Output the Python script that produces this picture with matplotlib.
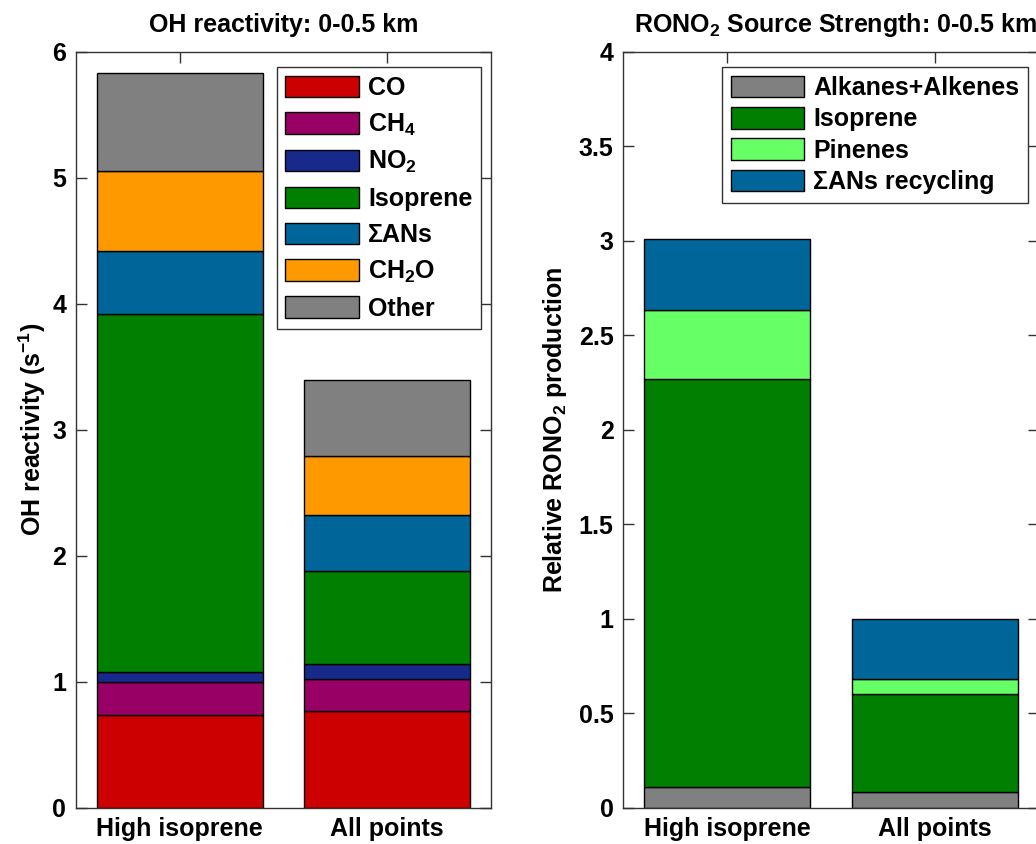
import matplotlib
matplotlib.use("Agg")
import matplotlib.pyplot as plt
import numpy as np

plt.rcParams['font.family'] = ['Liberation Sans', 'DejaVu Sans']
plt.rcParams['font.weight'] = 'bold'
plt.rcParams['mathtext.fontset'] = 'custom'
plt.rcParams['mathtext.rm'] = 'Liberation Sans:bold'
plt.rcParams['mathtext.bf'] = 'Liberation Sans:bold'
plt.rcParams['mathtext.it'] = 'Liberation Sans:bold'
plt.rcParams['mathtext.default'] = 'bf'

# ---- data ----
categories = ["High isoprene", "All points"]

oh_labels = ["CO", "CH$_4$", "NO$_2$", "Isoprene", "ΣANs", "CH$_2$O", "Other"]
oh_colors = ["#CC0000", "#990066", "#172A8C", "#007F00", "#00669A", "#FF9900", "#808080"]
oh_co = [0.736, 0.766]
oh_ch4 = [0.262, 0.257]
oh_no2 = [0.079, 0.114]
oh_isoprene = [2.843, 0.739]
oh_ans = [0.498, 0.448]
oh_ch2o = [0.638, 0.464]
oh_other = [0.772, 0.606]
oh_values = [oh_co, oh_ch4, oh_no2, oh_isoprene, oh_ans, oh_ch2o, oh_other]

rono2_labels = ["Alkanes+Alkenes", "Isoprene", "Pinenes", "ΣANs recycling"]
rono2_colors = ["#808080", "#007F00", "#66FF66", "#00669A"]
rono2_alk = [0.108, 0.083]
rono2_isoprene = [2.162, 0.517]
rono2_pinenes = [0.363, 0.083]
rono2_ans = [0.378, 0.314]
rono2_values = [rono2_alk, rono2_isoprene, rono2_pinenes, rono2_ans]

FS = 18
fig = plt.figure(figsize=(10.36, 8.44), dpi=100)
ax1 = fig.add_axes([76/1036, (844-807.7)/844, 415/1036, 756/844])
ax2 = fig.add_axes([623.3/1036, (844-807.7)/844, 416/1036, 756/844])

x = np.arange(1, len(categories) + 1)

def stacked(ax, values, labels, colors):
    bottom = np.zeros(len(categories))
    for v, lab, c in zip(values, labels, colors):
        ax.bar(x, v, width=0.8, bottom=bottom, color=c, edgecolor='black',
               linewidth=1.0, label=lab, zorder=2)
        bottom += np.array(v)

stacked(ax1, oh_values, oh_labels, oh_colors)
stacked(ax2, rono2_values, rono2_labels, rono2_colors)

for ax in (ax1, ax2):
    ax.set_xlim(0.5, 2.5)
    ax.set_xticks(x)
    ax.set_xticklabels(categories, fontsize=FS, fontweight='bold')
    ax.tick_params(direction='in', top=True, right=True, length=8, width=1,
                   color='#333333', labelsize=FS, pad=7)
    for s in ax.spines.values():
        s.set_color('#333333')
        s.set_linewidth(1.0)

ax1.set_ylim(0, 6)
ax1.set_yticks([0, 1, 2, 3, 4, 5, 6])
ax1.set_yticklabels(["0", "1", "2", "3", "4", "5", "6"], fontsize=FS, fontweight='bold')
ax1.set_ylabel("OH reactivity (s$^{-1}$)", fontsize=FS, fontweight='bold', labelpad=3)
ax1.set_title("OH reactivity: 0-0.5 km", fontsize=FS, fontweight='bold', pad=14)

ax2.set_ylim(0, 4)
yt = [0, 0.5, 1, 1.5, 2, 2.5, 3, 3.5, 4]
ax2.set_yticks(yt)
ax2.set_yticklabels(["0", "0.5", "1", "1.5", "2", "2.5", "3", "3.5", "4"], fontsize=FS, fontweight='bold')
ax2.set_ylabel("Relative RONO$_2$ production", fontsize=FS, fontweight='bold', labelpad=7)
ax2.set_title("RONO$_2$ Source Strength: 0-0.5 km", fontsize=FS, fontweight='bold', pad=14, x=0.51)

leg_kw = dict(fontsize=FS, fancybox=False, framealpha=1, edgecolor='#333333',
              handlelength=2.95, handleheight=0.95, handletextpad=0.36,
              borderpad=0.35, borderaxespad=0)
l1 = ax1.legend(loc='upper right', bbox_to_anchor=(0.9766, 0.980), labelspacing=0.46, **leg_kw)
l2 = ax2.legend(loc='upper right', bbox_to_anchor=(0.9736, 0.980), labelspacing=0.28, **leg_kw)
for l in (l1, l2):
    l.get_frame().set_linewidth(1.0)
    for t in l.get_texts():
        t.set_fontweight('bold')

fig.savefig("out.png", dpi=100)
